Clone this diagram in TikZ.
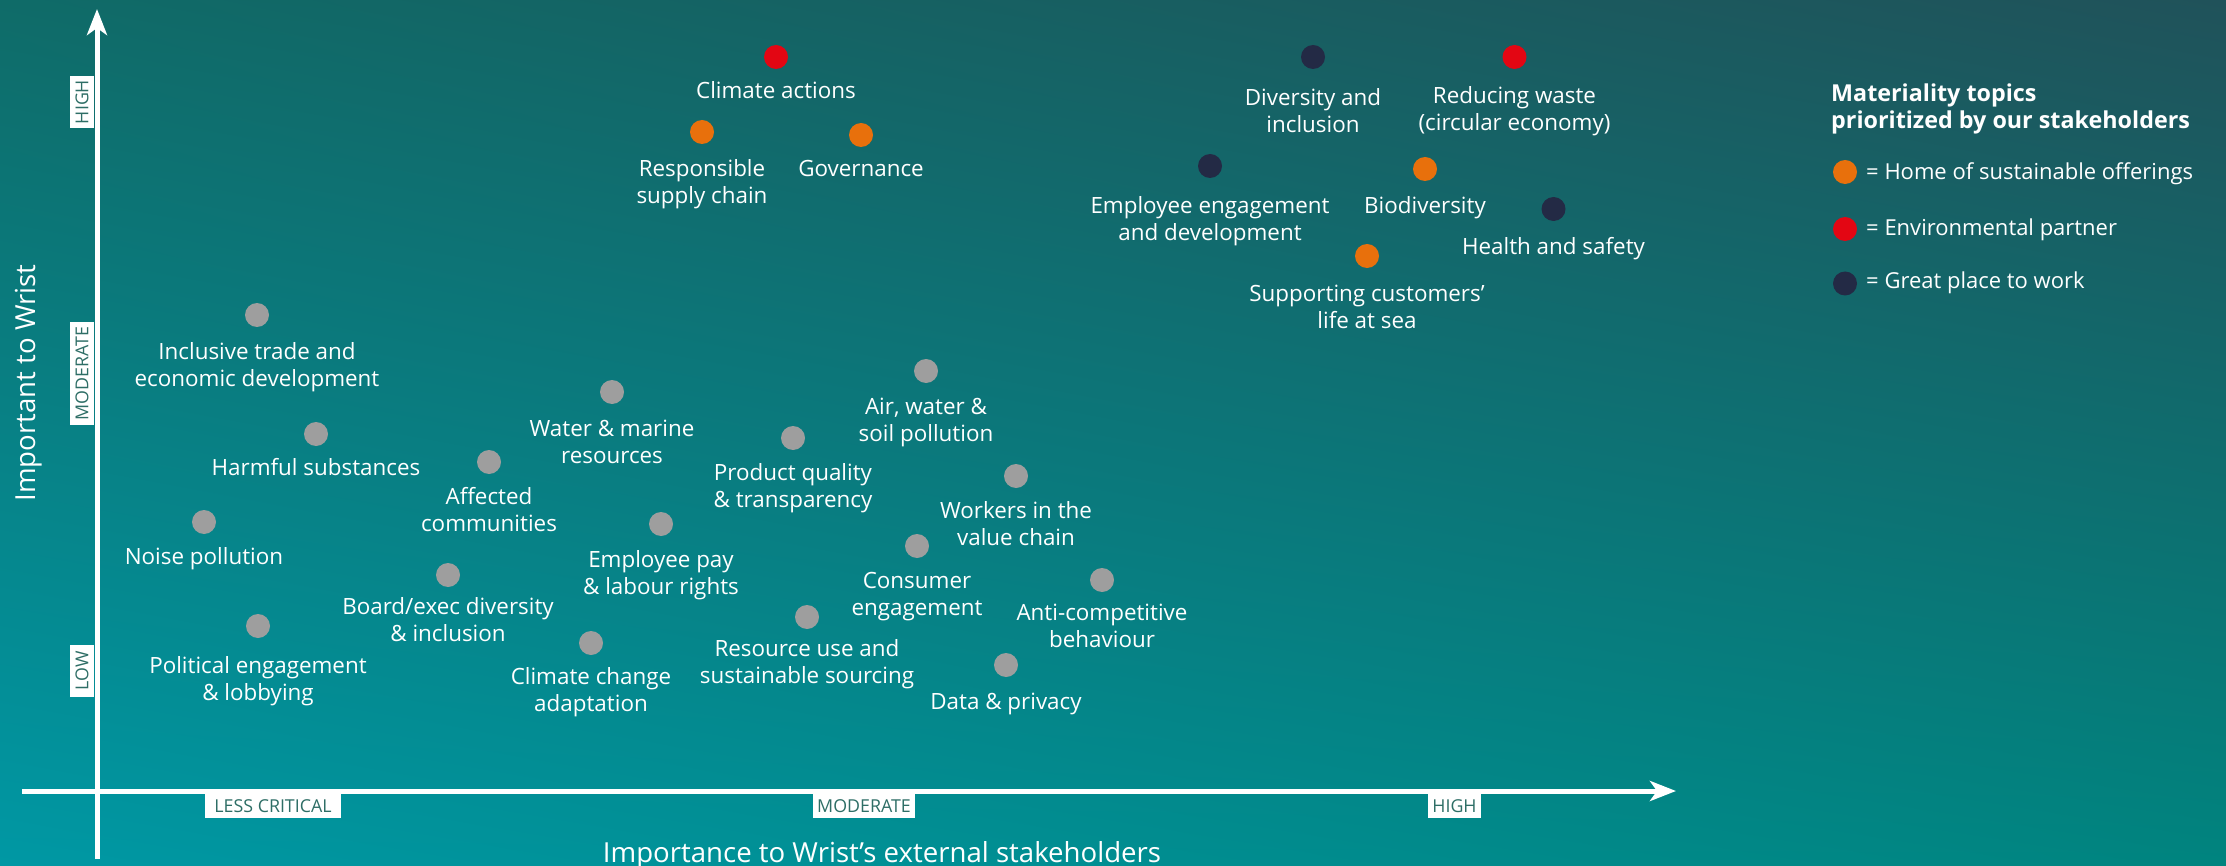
\documentclass[tikz,border=0pt]{standalone}
\usepackage{fontspec}
\setmainfont{Open Sans}
\usetikzlibrary{arrows.meta,shadings}
\definecolor{dotorange}{HTML}{E8700C}
\definecolor{dotred}{HTML}{E30613}
\definecolor{dotnavy}{HTML}{232A45}
\definecolor{dotgray}{HTML}{9E9E9E}
\definecolor{ticktext}{HTML}{2E6E66}
\definecolor{bgUL}{HTML}{0F6B68}
\definecolor{bgUR}{HTML}{20525A}
\definecolor{bgLL}{HTML}{0098A4}
\definecolor{bgLR}{HTML}{00847F}
% name, x, y, colour, y of first label line (centre), label
\newcommand\mtopic[6]{%
  \node[dot, fill=#4] (#1) at (#2,#3) {};
  \node[lbl] (#1-t) at ([yshift=10.9pt]#1.center |- 0,#5) {\strut #6};
}
\begin{document}
\begin{tikzpicture}[x=1pt,y=-1pt,
  dot/.style={circle, minimum size=24pt, inner sep=0pt, draw=none},
  lbl/.style={text=white, align=center, inner sep=0pt, anchor=north, font=\fontsize{22.4}{27}\selectfont},
  axisline/.style={draw=white, line width=5pt},
  axisarrow/.style={axisline, -{Stealth[length=26pt, width=20pt, inset=7pt]}},
  tickbox/.style={fill=white, text=ticktext, font=\fontsize{17.8}{20}\selectfont, inner sep=0pt, minimum height=24pt},
  tickv/.style={tickbox, rotate=90},
  axtitle/.style={text=white, inner sep=0pt, font=\fontsize{27.6}{32}\selectfont},
  legtitle/.style={text=white, inner sep=0pt, align=left, anchor=north west, font=\fontsize{23.3}{26.5}\selectfont\bfseries},
  legtext/.style={text=white, inner sep=0pt, anchor=base west, font=\fontsize{22}{26}\selectfont},
]
\useasboundingbox (0,0) rectangle (2226,866);
\shade[upper left=bgUL, upper right=bgUR, lower left=bgLL, lower right=bgLR] (0,0) rectangle (2226,866);

% axes
\coordinate (ybot) at (97,859);
\coordinate (ytop) at (97,9);
\coordinate (xleft) at (22,791);
\coordinate (xright) at (1676,791);
\draw[axisarrow] (ybot) -- (ytop);
\draw[axisarrow] (xleft) -- (xright);

% tick boxes
\node[tickv, minimum width=52pt] (vhigh) at (82,102) {HIGH};
\node[tickv, minimum width=103pt] (vmod) at (82,373.5) {MODERATE};
\node[tickv, minimum width=52pt] (vlow) at (82,671) {LOW};
\node[tickbox, minimum width=136pt] (hless) at (273,805.8) {LESS CRITICAL};
\node[tickbox, minimum width=102pt] (hmod) at (864,805.8) {MODERATE};
\node[tickbox, minimum width=53pt] (hhigh) at (1454.5,805.8) {HIGH};

% axis titles
\node[axtitle, rotate=90] (ytitle) at (29,383) {Important to Wrist};
\node[axtitle, anchor=base] (xtitle) at (882,862) {Importance to Wrist’s external stakeholders};

% topics
\mtopic{climate}{776}{57}{dotred}{90.7}{Climate actions}
\mtopic{supply}{702}{132}{dotorange}{168}{Responsible\\supply chain}
\mtopic{gov}{861}{135}{dotorange}{168.3}{Governance}
\mtopic{divers}{1313}{57}{dotnavy}{97.7}{Diversity and\\inclusion}
\mtopic{waste}{1514.5}{57}{dotred}{95}{Reducing waste\\(circular economy)}
\mtopic{empeng}{1210}{166}{dotnavy}{205}{Employee engagement\\and development}
\mtopic{bio}{1425}{169}{dotorange}{205.7}{Biodiversity}
\mtopic{health}{1553.5}{209}{dotnavy}{246}{Health and safety}
\mtopic{support}{1367}{256}{dotorange}{293.3}{Supporting customers’\\life at sea}
\mtopic{trade}{257}{315}{dotgray}{351}{Inclusive trade and\\economic development}
\mtopic{air}{926}{371}{dotgray}{406}{Air, water \&\\soil pollution}
\mtopic{water}{612}{392}{dotgray}{428}{Water \& marine\\resources}
\mtopic{harm}{316}{434}{dotgray}{467.7}{Harmful substances}
\mtopic{prodq}{793}{438}{dotgray}{472.3}{Product quality\\\& transparency}
\mtopic{affected}{489}{462}{dotgray}{496.7}{Affected\\communities}
\mtopic{workers}{1016}{476}{dotgray}{510.7}{Workers in the\\value chain}
\mtopic{noise}{204}{522}{dotgray}{556.7}{Noise pollution}
\mtopic{emppay}{661}{524}{dotgray}{559.3}{Employee pay\\\& labour rights}
\mtopic{consumer}{917}{546}{dotgray}{580}{Consumer\\engagement}
\mtopic{board}{448}{575}{dotgray}{606}{Board/exec diversity\\\& inclusion}
\mtopic{anti}{1102}{580}{dotgray}{612.7}{Anti-competitive\\behaviour}
\mtopic{resource}{807}{617}{dotgray}{648.3}{Resource use and\\sustainable sourcing}
\mtopic{political}{258}{626}{dotgray}{665}{Political engagement\\\& lobbying}
\mtopic{adapt}{591}{643}{dotgray}{676.7}{Climate change\\adaptation}
\mtopic{data}{1006}{665}{dotgray}{701}{Data \& privacy}

% legend
\node[legtitle] (legt) at (1831,83) {\strut Materiality topics\\prioritized by our stakeholders};
\node[dot, fill=dotorange] (lego) at (1845,172) {};
\node[dot, fill=dotred] (legr) at (1845,229) {};
\node[dot, fill=dotnavy] (legn) at (1845,283.5) {};
\node[legtext] (lego-t) at (1866,180) {= Home of sustainable offerings};
\node[legtext] (legr-t) at (1866,235.5) {= Environmental partner};
\node[legtext] (legn-t) at (1866,289) {= Great place to work};
\end{tikzpicture}
\end{document}
